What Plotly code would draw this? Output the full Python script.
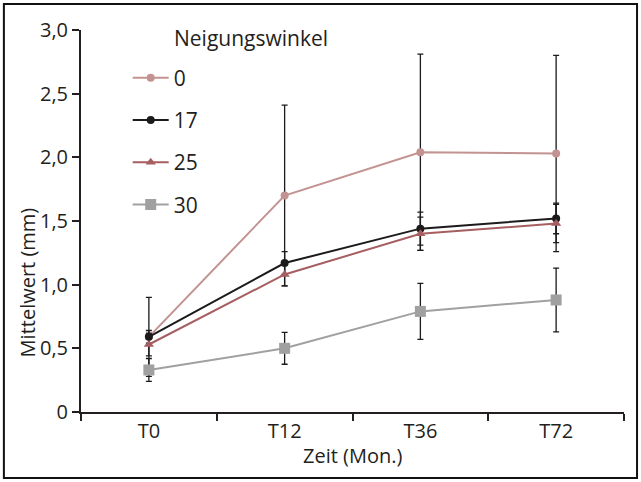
import plotly.graph_objects as go

categories = ["T0", "T12", "T36", "T72"]
series_names = ["0", "17", "25", "30"]
values_0 = [0.59, 1.70, 2.04, 2.03]
values_17 = [0.59, 1.17, 1.44, 1.52]
values_25 = [0.53, 1.08, 1.40, 1.48]
values_30 = [0.33, 0.50, 0.79, 0.88]
err_0 = [0.31, 0.71, 0.77, 0.77]
err_17 = [0.05, 0.09, 0.13, 0.12]
err_25 = [0.09, 0.09, 0.13, 0.15]
err_30 = [0.09, 0.125, 0.22, 0.25]
y_tickvals = [0, 0.5, 1.0, 1.5, 2.0, 2.5, 3.0]
y_ticktext = ["0", "0,5", "1,0", "1,5", "2,0", "2,5", "3,0"]

colors = ["#c39392", "#1c1a1b", "#a65e60", "#a0a0a0"]
symbols = ["circle", "circle", "triangle-up", "square"]
sizes = [8, 8, 9, 11]

FONT = "'Open Sans', sans-serif"
TXT = "#231f20"
FS = 20

fig = go.Figure()
all_vals = [values_0, values_17, values_25, values_30]
all_errs = [err_0, err_17, err_25, err_30]
for i, name in enumerate(series_names):
    fig.add_trace(go.Scatter(
        x=categories, y=all_vals[i], name=name, mode="lines+markers",
        line=dict(color=colors[i], width=2),
        marker=dict(color=colors[i], symbol=symbols[i], size=sizes[i]),
        error_y=dict(type="data", array=all_errs[i], visible=True,
                     color="#1c1a1b", thickness=1.3, width=3),
        legendgroup=name,
    ))

# plot area: x 81..624, y 30..412
fig.update_layout(
    width=641, height=482,
    margin=dict(l=81, r=17, t=30, b=70, autoexpand=False),
    paper_bgcolor="white", plot_bgcolor="white",
    font=dict(family=FONT, size=FS, color=TXT),
    showlegend=True,
    legend=dict(x=0.086, y=0.928, xanchor="left", yanchor="top",
                font=dict(size=21, color=TXT), tracegroupgap=12,
                bgcolor="rgba(0,0,0,0)", itemwidth=36),
    xaxis=dict(type="category", range=[-0.5, 3.5], showline=True,
               linecolor=TXT, linewidth=2, ticks="outside", tickson="boundaries",
               ticklen=7, tickwidth=2, tickcolor=TXT, showgrid=False,
               zeroline=False, automargin=False, tickfont=dict(size=20)),
    yaxis=dict(range=[0, 3.0], tickvals=y_tickvals, ticktext=y_ticktext,
               showline=True, linecolor=TXT, linewidth=2, ticks="outside",
               ticklen=7, tickwidth=2, tickcolor=TXT, showgrid=False,
               zeroline=False, automargin=False, tickfont=dict(size=20)),
    annotations=[
        dict(text="Neigungswinkel", xref="paper", yref="paper",
             x=0.168, y=0.979, xanchor="left", yanchor="middle",
             showarrow=False, font=dict(size=21, color=TXT)),
        dict(text="Mittelwert (mm)", xref="paper", yref="paper",
             x=-0.0985, y=0.338, xanchor="center", yanchor="middle", textangle=-90,
             showarrow=False, font=dict(size=20, color=TXT)),
        dict(text="Zeit (Mon.)", xref="paper", yref="paper",
             x=0.5, y=-0.115, xanchor="center", yanchor="middle",
             showarrow=False, font=dict(size=20, color=TXT)),
    ],
    shapes=[dict(type="rect", xref="paper", yref="paper",
                 x0=-0.142, x1=1.024, y0=-0.173, y1=1.068,
                 line=dict(color="#111", width=2))],
)

fig.write_html("out.html", config={"displayModeBar": False},
               post_script="document.body.style.margin='0';document.body.style.overflow='hidden';")
